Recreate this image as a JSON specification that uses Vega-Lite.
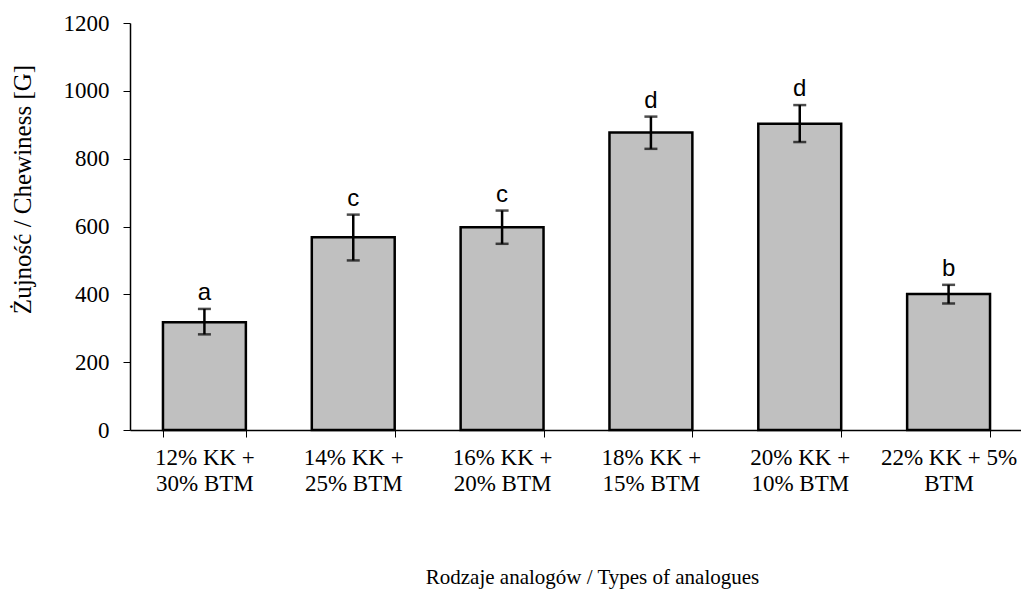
{
  "$schema": "https://vega.github.io/schema/vega-lite/v6.json",
  "autosize": {"type": "none"},
  "padding": {"left": 130, "top": 23, "right": 0, "bottom": 159},
  "width": 893,
  "height": 407,
  "background": "white",
  "config": {"view": {"stroke": null}},
  "data": {"values": [
    {"cat": "12% KK +\n30% BTM", "mean": 318, "lo": 282, "hi": 357, "letter": "a"},
    {"cat": "14% KK +\n25% BTM", "mean": 568, "lo": 500, "hi": 635, "letter": "c"},
    {"cat": "16% KK +\n20% BTM", "mean": 598, "lo": 549, "hi": 647, "letter": "c"},
    {"cat": "18% KK +\n15% BTM", "mean": 877, "lo": 829, "hi": 924, "letter": "d"},
    {"cat": "20% KK +\n10% BTM", "mean": 903, "lo": 849, "hi": 958, "letter": "d"},
    {"cat": "22% KK + 5%\nBTM", "mean": 401, "lo": 373, "hi": 428, "letter": "b"}
  ]},
  "encoding": {
    "x": {
      "field": "cat", "type": "nominal", "sort": null,
      "scale": {"paddingInner": 0.443, "paddingOuter": 0.2215},
      "axis": {
        "title": "Rodzaje analogów / Types of analogues",
        "labelExpr": "split(datum.label, '\\n')",
        "labelAngle": 0,
        "labelFont": "Liberation Serif", "labelFontSize": 23, "labelColor": "black",
        "labelLineHeight": 26, "labelBaseline": "top", "labelPadding": 9,
        "tickBand": "extent", "tickSize": 7, "tickColor": "black", "tickWidth": 1,
        "domainColor": "black", "domainWidth": 1.5,
        "titleFont": "Liberation Serif", "titleFontSize": 21, "titleFontWeight": "normal", "titleColor": "black",
        "titleX": 462, "titleY": 153, "titleBaseline": "alphabetic", "titleAnchor": null, "titleAlign": "center"
      }
    }
  },
  "layer": [
    {
      "mark": {"type": "bar", "fill": "#c0c0c0", "stroke": "black", "strokeWidth": 2.5},
      "encoding": {
        "y": {
          "field": "mean", "type": "quantitative",
          "scale": {"domain": [0, 1200], "nice": false},
          "axis": {
            "title": "Żujność / Chewiness [G]",
            "values": [0, 200, 400, 600, 800, 1000, 1200],
            "format": "d",
            "grid": false,
            "labelFont": "Liberation Serif", "labelFontSize": 23, "labelColor": "black", "labelPadding": 14,
            "tickSize": 7, "tickColor": "black", "tickWidth": 1,
            "domainColor": "black", "domainWidth": 1.5,
            "titleFont": "Liberation Serif", "titleFontSize": 25, "titleFontWeight": "normal", "titleColor": "black",
            "titleX": -108, "titleY": 166, "titleAngle": -90, "titleAlign": "center", "titleBaseline": "middle", "titleAnchor": null
          }
        }
      }
    },
    {
      "mark": {"type": "rule", "color": "black", "strokeWidth": 2.5},
      "encoding": {"y": {"field": "lo", "type": "quantitative"}, "y2": {"field": "hi"}}
    },
    {
      "mark": {"type": "tick", "color": "black", "size": 13, "thickness": 2.5},
      "encoding": {"y": {"field": "hi", "type": "quantitative"}}
    },
    {
      "mark": {"type": "tick", "color": "black", "size": 13, "thickness": 2.5},
      "encoding": {"y": {"field": "lo", "type": "quantitative"}}
    },
    {
      "mark": {"type": "text", "font": "Liberation Sans", "fontSize": 24, "color": "black", "baseline": "alphabetic", "dy": -9},
      "encoding": {"y": {"field": "hi", "type": "quantitative"}, "text": {"field": "letter"}}
    }
  ]
}
